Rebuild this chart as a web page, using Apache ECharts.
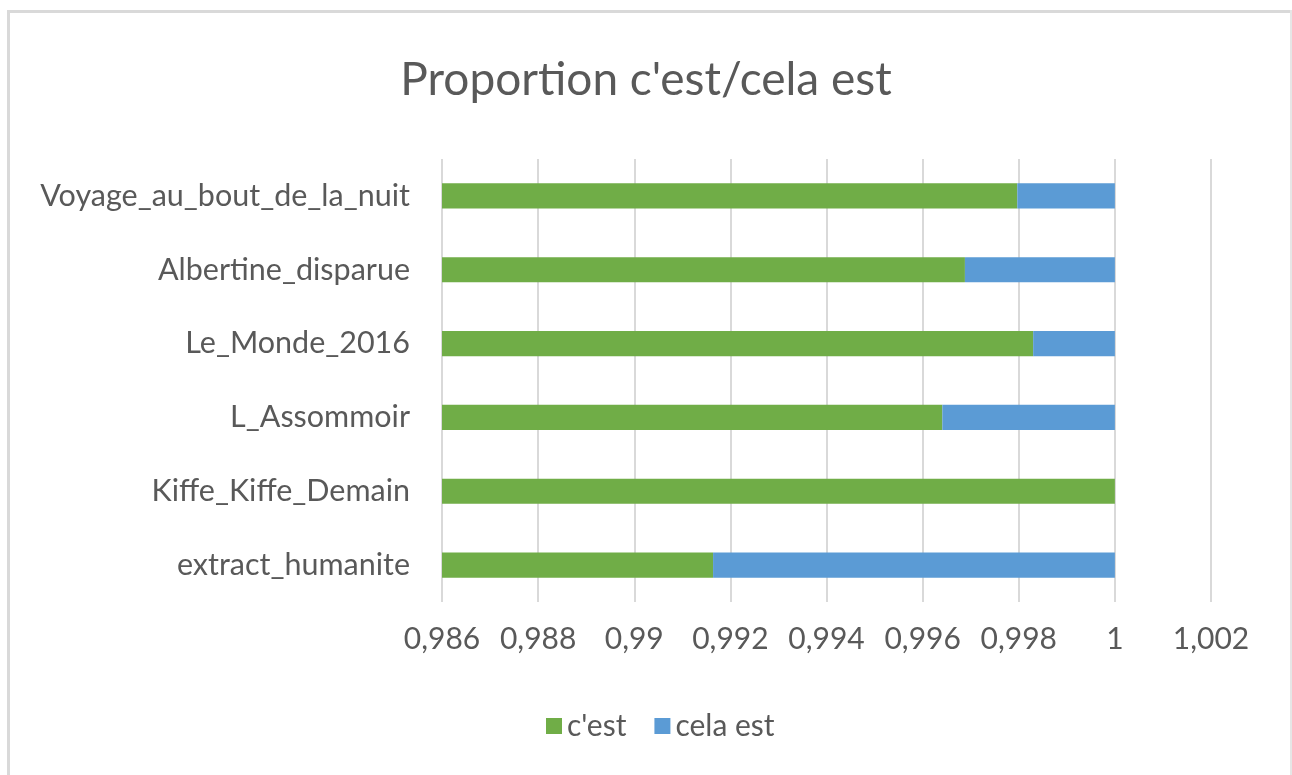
<!DOCTYPE html>
<html>
<head>
<meta charset="utf-8">
<script src="https://cdn.jsdelivr.net/npm/echarts@6/dist/echarts.min.js"></script>
<style>
  html, body { margin: 0; padding: 0; background: #fff; }
  #chart { width: 1292px; height: 775px; }
</style>
</head>
<body>
<div id="chart"></div>
<script>
// 数据
const categories = ['Voyage_au_bout_de_la_nuit', 'Albertine_disparue', 'Le_Monde_2016',
    'L_Assommoir', 'Kiffe_Kiffe_Demain', 'extract_humanite'];
const cestValues = [0.99797, 0.99688, 0.99830, 0.99641, 1.0, 0.99164];
const celaValues = [0.00203, 0.00312, 0.00170, 0.00359, 0.0, 0.00836];
const seriesNames = ["c'est", 'cela est'];
const xMin = 0.986, xMax = 1.002, xStep = 0.002;

const textColor = '#595959';
const fontFamily = 'Lato, "Open Sans", sans-serif';

// 小数点用逗号
function frNumber(v) {
    return String(parseFloat(v.toFixed(3))).replace('.', ',');
}

const chart = echarts.init(document.getElementById('chart'));

const option = {
    backgroundColor: '#fff',
    animation: false,
    textStyle: { fontFamily: fontFamily },
    title: {
        text: "Proportion c'est/cela est",
        left: 'center',
        top: 52,
        textStyle: { color: textColor, fontSize: 46, fontWeight: 'normal', fontFamily: fontFamily }
    },
    // 外框
    graphic: [
        { type: 'rect', shape: { x: 7, y: 10, width: 1285, height: 3 }, style: { fill: '#d9d9d9' }, silent: true },
        { type: 'rect', shape: { x: 7, y: 10, width: 3, height: 765 }, style: { fill: '#d9d9d9' }, silent: true },
        { type: 'rect', shape: { x: 1290, y: 10, width: 2, height: 765 }, style: { fill: '#e6e6e6' }, silent: true }
    ],
    legend: {
        data: seriesNames,
        left: 541,
        top: 706,
        icon: 'rect',
        itemWidth: 16,
        itemHeight: 16,
        itemGap: 28,
        textStyle: { color: textColor, fontSize: 30, fontFamily: fontFamily }
    },
    grid: { left: 442, right: 81, top: 159, bottom: 173, containLabel: false },
    xAxis: {
        type: 'value',
        min: xMin,
        max: xMax,
        interval: xStep,
        axisLine: { show: false },
        axisTick: { show: false },
        splitLine: { lineStyle: { color: '#d9d9d9', width: 2 } },
        axisLabel: {
            color: textColor,
            fontSize: 30,
            margin: 22,
            formatter: frNumber
        }
    },
    yAxis: {
        type: 'category',
        data: categories,
        inverse: true,
        axisLine: { show: false },
        axisTick: { show: false },
        axisLabel: { color: textColor, fontSize: 30.5, margin: 32 }
    },
    series: [
        {
            name: seriesNames[0],
            type: 'bar',
            stack: 'total',
            barWidth: '34%',
            clip: true,
            itemStyle: { color: '#70ad47' },
            data: cestValues
        },
        {
            name: seriesNames[1],
            type: 'bar',
            stack: 'total',
            barWidth: '34%',
            clip: true,
            itemStyle: { color: '#5b9bd5' },
            data: celaValues
        }
    ]
};

chart.setOption(option);
</script>
</body>
</html>
